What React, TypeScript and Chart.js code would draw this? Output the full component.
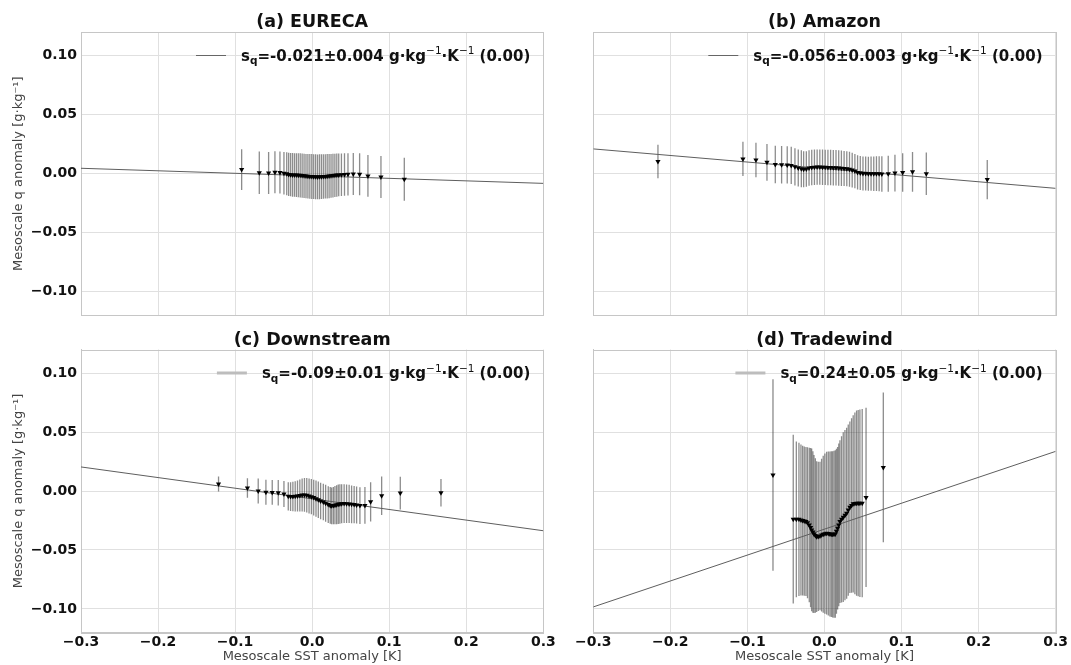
import React, { useEffect, useRef } from 'react';
import { Chart, registerables } from 'chart.js';

Chart.register(...registerables);

const FONT = '"DejaVu Sans", "Liberation Sans", sans-serif';

// ---- axes ----
const xTicks = [-0.3, -0.2, -0.1, 0, 0.1, 0.2, 0.3];
const yTicks = [-0.1, -0.05, 0, 0.05, 0.1];
const fitX = [-0.3, 0.3];

const titles = ['(a) EURECA', '(b) Amazon', '(c) Downstream', '(d) Tradewind'];
const slopeTexts = ['-0.021±0.004', '-0.056±0.003', '-0.09±0.01', '0.24±0.05'];
const pValues = ['0.00', '0.00', '0.00', '0.00'];

// ---- (a) EURECA ----
const xA = [-0.0915, -0.0686, -0.0565, -0.0483, -0.0418, -0.0366,
  -0.0330, -0.0305, -0.0280, -0.0255, -0.0230, -0.0205, -0.0180, -0.0155, -0.0130, -0.0105, -0.0080, -0.0055,
  -0.0030, -0.0005, 0.0020, 0.0045, 0.0070, 0.0095, 0.0120, 0.0145, 0.0170, 0.0195, 0.0220, 0.0245, 0.0270,
  0.0295, 0.0320, 0.0345, 0.0380, 0.0420, 0.0465, 0.0534, 0.0616, 0.0724, 0.0893, 0.1196];
const yA = [0.0035, 0.0008, 0.0006, 0.0012, 0.0010, 0.0004,
  0.0000, -0.0006, -0.0008, -0.0010, -0.0011, -0.0012, -0.0013, -0.0014, -0.0016, -0.0018, -0.0020, -0.0022,
  -0.0023, -0.0024, -0.0025, -0.0026, -0.0027, -0.0026, -0.0025, -0.0024, -0.0023, -0.0022, -0.0020, -0.0018, -0.0016,
  -0.0014, -0.0012, -0.0010, -0.0009, -0.0007, -0.0005, -0.0003, -0.0005, -0.0019, -0.0027, -0.0047];
const eA = [0.0173, 0.0181, 0.0178, 0.0178, 0.0178, 0.0180,
  0.0182, 0.0183, 0.0184, 0.0185, 0.0185, 0.0186, 0.0186, 0.0187, 0.0187, 0.0188, 0.0188, 0.0189,
  0.0189, 0.0190, 0.0190, 0.0190, 0.0190, 0.0190, 0.0189, 0.0189, 0.0188, 0.0188, 0.0187, 0.0186, 0.0185,
  0.0184, 0.0183, 0.0182, 0.0181, 0.0180, 0.0179, 0.0178, 0.0178, 0.0177, 0.0178, 0.0182];
const fitA = [0.0046, -0.0082];

// ---- (b) Amazon ----
const xB = [-0.2161, -0.1058, -0.0889, -0.0746, -0.0638, -0.0556, -0.0483, -0.0431, -0.0383, -0.0340, -0.0300,
  -0.0270, -0.0235, -0.0200, -0.0165, -0.0130, -0.0095, -0.0060, -0.0025, 0.0010, 0.0045, 0.0080, 0.0115,
  0.0150, 0.0185, 0.0220, 0.0255, 0.0290, 0.0325, 0.0360, 0.0395, 0.0430, 0.0465, 0.0500, 0.0535, 0.0570,
  0.0605, 0.0640, 0.0675, 0.0710, 0.0745, 0.0828, 0.0915, 0.1015, 0.1143, 0.1322, 0.2113];
const yB = [0.0103, 0.0125, 0.0116, 0.0096, 0.0078, 0.0076, 0.0074, 0.0070, 0.0058, 0.0048, 0.0042,
  0.0038, 0.0040, 0.0048, 0.0053, 0.0055, 0.0056, 0.0056, 0.0055, 0.0054, 0.0053, 0.0052, 0.0051,
  0.0050, 0.0048, 0.0046, 0.0044, 0.0042, 0.0038, 0.0031, 0.0022, 0.0011, 0.0005, 0.0002, 0.0001, 0.0000,
  0.0000, 0.0000, 0.0000, -0.0001, -0.0002, 0.0000, 0.0005, 0.0011, 0.0016, 0.0000, -0.0050];
const eB = [0.0142, 0.0145, 0.0146, 0.0155, 0.0158, 0.0158, 0.0158, 0.0158, 0.0158, 0.0157, 0.0156,
  0.0152, 0.0151, 0.0150, 0.0150, 0.0150, 0.0150, 0.0150, 0.0150, 0.0150, 0.0150, 0.0150, 0.0150,
  0.0150, 0.0150, 0.0150, 0.0149, 0.0149, 0.0148, 0.0147, 0.0146, 0.0145, 0.0144, 0.0144, 0.0144, 0.0144,
  0.0145, 0.0146, 0.0147, 0.0148, 0.0150, 0.0152, 0.0156, 0.0163, 0.0168, 0.0180, 0.0167];
const fitB = [0.0210, -0.0124];

// ---- (c) Downstream ----
const xC = [-0.1215, -0.0840, -0.0700, -0.0600, -0.0518, -0.0440, -0.0366, -0.0310, -0.0280, -0.0250,
  -0.0220, -0.0190, -0.0160, -0.0130, -0.0100, -0.0070, -0.0040, -0.0010, 0.0020, 0.0050, 0.0080, 0.0110,
  0.0145, 0.0175, 0.0209, 0.0235, 0.0253, 0.0275, 0.0296, 0.0318, 0.0339, 0.0360, 0.0383, 0.0415, 0.0447,
  0.0480, 0.0512, 0.0545, 0.0577, 0.0620, 0.0685, 0.0759, 0.0902, 0.1144, 0.1672];
const yC = [0.0060, 0.0025, 0.0000, -0.0010, -0.0012, -0.0015, -0.0025, -0.0045, -0.0047, -0.0047,
  -0.0045, -0.0042, -0.0038, -0.0034, -0.0033, -0.0036, -0.0042, -0.0048, -0.0056, -0.0065, -0.0074, -0.0084,
  -0.0094, -0.0104, -0.0115, -0.0122, -0.0126, -0.0124, -0.0120, -0.0116, -0.0112, -0.0110, -0.0108, -0.0107, -0.0108,
  -0.0110, -0.0113, -0.0115, -0.0118, -0.0124, -0.0122, -0.0092, -0.0040, -0.0018, -0.0015];
const eC = [0.0064, 0.0083, 0.0105, 0.0106, 0.0105, 0.0108, 0.0110, 0.0120, 0.0122, 0.0125,
  0.0128, 0.0132, 0.0136, 0.0140, 0.0143, 0.0146, 0.0148, 0.0150, 0.0152, 0.0153, 0.0154, 0.0155,
  0.0155, 0.0156, 0.0156, 0.0156, 0.0156, 0.0158, 0.0162, 0.0165, 0.0167, 0.0167, 0.0166, 0.0165, 0.0164,
  0.0162, 0.0160, 0.0158, 0.0157, 0.0156, 0.0156, 0.0166, 0.0163, 0.0139, 0.0117];
const fitC = [0.0204, -0.0337];

// ---- (d) Tradewind ----
const xD = [-0.0668, -0.0405, -0.0365, -0.0331, -0.0305, -0.0283, -0.0262, -0.0240, -0.0220, -0.0197,
  -0.0180, -0.0166, -0.0150, -0.0136, -0.0118, -0.0101, -0.0080, -0.0058, -0.0037, -0.0016, 0.0006,
  0.0028, 0.0050, 0.0071, 0.0089, 0.0106, 0.0124, 0.0141, 0.0156, 0.0171, 0.0186, 0.0201, 0.0222,
  0.0244, 0.0266, 0.0288, 0.0309, 0.0330, 0.0352, 0.0373, 0.0395, 0.0417, 0.0438, 0.0460, 0.0490,
  0.0540, 0.0764];
const yD = [0.0135, -0.0239, -0.0240, -0.0240, -0.0246, -0.0251, -0.0255, -0.0259, -0.0270, -0.0288,
  -0.0310, -0.0330, -0.0348, -0.0364, -0.0378, -0.0387, -0.0385, -0.0381, -0.0374, -0.0367, -0.0362,
  -0.0358, -0.0361, -0.0364, -0.0366, -0.0367, -0.0366, -0.0364, -0.0342, -0.0316, -0.0288, -0.0259, -0.0240,
  -0.0222, -0.0205, -0.0188, -0.0162, -0.0137, -0.0122, -0.0109, -0.0105, -0.0103, -0.0103, -0.0103, -0.0103,
  -0.0055, 0.0200];
const eD = [0.0812, 0.0715, 0.0660, 0.0650, 0.0640, 0.0635, 0.0633, 0.0632, 0.0640, 0.0655,
  0.0675, 0.0690, 0.0685, 0.0670, 0.0655, 0.0640, 0.0632, 0.0630, 0.0648, 0.0665, 0.0680,
  0.0690, 0.0695, 0.0700, 0.0703, 0.0705, 0.0708, 0.0710, 0.0700, 0.0690, 0.0690, 0.0690, 0.0705,
  0.0720, 0.0722, 0.0725, 0.0726, 0.0727, 0.0740, 0.0752, 0.0770, 0.0785, 0.0790, 0.0795, 0.0799,
  0.0760, 0.0635];
const fitD = [-0.0983, 0.0336];

const seriesX = [xA, xB, xC, xD];
const seriesY = [yA, yB, yC, yD];
const seriesE = [eA, eB, eC, eD];
const fits = [fitA, fitB, fitC, fitD];

// ---- layout (pixels) ----
const PANELS = [
  { left: 0, top: 0, w: 568, h: 330, yW: 81, xH: 14.7, padR: 24.7, tTop: 13.5, tBot: 1.1, showX: false, showY: true, thick: false },
  { left: 568, top: 0, w: 503, h: 330, yW: 25.3, xH: 14.7, padR: 15.4, tTop: 13.5, tBot: 1.1, showX: false, showY: false, thick: false },
  { left: 0, top: 325, w: 568, h: 340, yW: 81, xH: 32.5, padR: 24.7, tTop: 6.3, tBot: 0.7, showX: true, showY: true, thick: true },
  { left: 568, top: 325, w: 503, h: 340, yW: 25.3, xH: 32.5, padR: 15.4, tTop: 6.3, tBot: 0.7, showX: true, showY: false, thick: true },
];

const GRID = '#e0e0e0';
const FRAME = '#c6c6c6';

const fmt = (v: number, d: number) => (v < -1e-9 ? '\u2212' : '') + Math.abs(v).toFixed(d);

const errorBarPlugin = {
  id: 'errBars',
  beforeDatasetsDraw(chart: any) {
    const { ctx, chartArea } = chart;
    const xs = chart.scales.x;
    const ys = chart.scales.y;
    ctx.save();
    ctx.strokeStyle = FRAME;
    ctx.lineWidth = 1;
    ctx.strokeRect(Math.round(chartArea.left) + 0.5, Math.round(chartArea.top) + 0.5,
      Math.round(chartArea.right) - Math.round(chartArea.left), Math.round(chartArea.bottom) - Math.round(chartArea.top));
    ctx.beginPath();
    ctx.rect(chartArea.left, chartArea.top, chartArea.right - chartArea.left, chartArea.bottom - chartArea.top);
    ctx.clip();
    const ds = chart.data.datasets.find((d: any) => d.label === 'bins');
    if (ds) {
      ctx.strokeStyle = 'rgba(45,45,45,0.55)';
      ctx.lineWidth = 1.3;
      for (const p of ds.data) {
        const px = xs.getPixelForValue(p.x);
        ctx.beginPath();
        ctx.moveTo(px, ys.getPixelForValue(p.y - p.e));
        ctx.lineTo(px, ys.getPixelForValue(p.y + p.e));
        ctx.stroke();
      }
    }
    ctx.restore();
  },
};

const legendPlugin = {
  id: 'sqLegend',
  afterDatasetsDraw(chart: any, _args: any, opts: any) {
    const { ctx, chartArea } = chart;
    const big = `bold 15px ${FONT}`;
    const subF = `bold 10.5px ${FONT}`;
    const supF = `10.5px ${FONT}`;
    const segs: [string, string, number][] = [
      ['s', big, 0],
      ['q', subF, 3.5],
      ['=' + opts.value + ' g·kg', big, 0],
      ['\u22121', supF, -6.5],
      ['·K', big, 0],
      ['\u22121', supF, -6.5],
      [' (' + opts.p + ')', big, 0],
    ];
    ctx.save();
    const widths: number[] = [];
    let total = 0;
    for (const s of segs) {
      ctx.font = s[1];
      const w = ctx.measureText(s[0]).width;
      widths.push(w);
      total += w;
    }
    let x = chartArea.right - 13 - total;
    const yMid = chartArea.top + 23;
    const base = yMid + 5.5;
    ctx.strokeStyle = opts.thick ? '#bdbdbd' : '#666666';
    ctx.lineWidth = opts.thick ? 3 : 1;
    ctx.beginPath();
    ctx.moveTo(x - 15 - 30, Math.round(yMid) + (opts.thick ? 0 : 0.5));
    ctx.lineTo(x - 15, Math.round(yMid) + (opts.thick ? 0 : 0.5));
    ctx.stroke();
    ctx.fillStyle = '#111111';
    ctx.textBaseline = 'alphabetic';
    ctx.textAlign = 'left';
    segs.forEach((s, i) => {
      ctx.font = s[1];
      ctx.fillText(s[0], x, base + s[2]);
      x += widths[i];
    });
    ctx.restore();
  },
};

function makeConfig(i: number): any {
  const p = PANELS[i];
  const xs = seriesX[i];
  const ys = seriesY[i];
  const es = seriesE[i];
  const fit = fits[i];
  return {
    type: 'scatter',
    data: {
      datasets: [
        {
          type: 'line',
          label: 'fit',
          data: fitX.map((x, k) => ({ x, y: fit[k] })),
          borderColor: '#5e5e5e',
          borderWidth: 1,
          pointRadius: 0,
          fill: false,
          order: 2,
        },
        {
          type: 'scatter',
          label: 'bins',
          data: xs.map((x, k) => ({ x, y: ys[k], e: es[k] })),
          pointStyle: 'triangle',
          rotation: 180,
          radius: 3,
          backgroundColor: '#000000',
          borderColor: '#000000',
          borderWidth: 0,
          order: 1,
        },
      ],
    },
    options: {
      responsive: false,
      animation: false,
      devicePixelRatio: 1,
      events: [],
      layout: { padding: { left: 0, right: p.padR, top: 0, bottom: 0 } },
      plugins: {
        legend: { display: false },
        tooltip: { enabled: false },
        title: {
          display: true,
          text: titles[i],
          fullSize: false,
          color: '#111111',
          font: { family: FONT, size: 17.5, weight: 'bold', lineHeight: 1 },
          padding: { top: p.tTop, bottom: p.tBot },
        },
        sqLegend: { value: slopeTexts[i], p: pValues[i], thick: p.thick },
      },
      scales: {
        x: {
          type: 'linear',
          min: -0.3,
          max: 0.3,
          afterBuildTicks: (s: any) => { s.ticks = xTicks.map((v) => ({ value: v })); },
          afterFit: (s: any) => { s.height = p.xH; },
          grid: { color: GRID, drawTicks: false, lineWidth: 1 },
          border: { color: FRAME },
          ticks: {
            display: p.showX,
            autoSkip: false,
            maxRotation: 0,
            padding: 1,
            color: '#111111',
            font: { family: FONT, size: 14, weight: 'bold' },
            callback: (v: any) => fmt(Number(v), 1),
          },
          title: {
            display: p.showX,
            text: 'Mesoscale SST anomaly [K]',
            color: '#444444',
            font: { family: FONT, size: 13 },
            padding: { top: 0, bottom: 0.5 },
          },
        },
        y: {
          type: 'linear',
          min: -0.12,
          max: 0.12,
          afterBuildTicks: (s: any) => { s.ticks = yTicks.map((v) => ({ value: v })); },
          afterFit: (s: any) => { s.width = p.yW; },
          grid: { color: GRID, drawTicks: false, lineWidth: 1 },
          border: { color: FRAME },
          ticks: {
            display: p.showY,
            autoSkip: false,
            padding: 4,
            color: '#111111',
            font: { family: FONT, size: 14, weight: 'bold' },
            callback: (v: any) => fmt(Number(v), 2),
          },
          title: {
            display: p.showY,
            text: 'Mesoscale q anomaly [g·kg⁻¹]',
            color: '#444444',
            font: { family: FONT, size: 13 },
            padding: { top: 11, bottom: 0 },
          },
        },
      },
    },
    plugins: [errorBarPlugin, legendPlugin],
  };
}

export default function App() {
  const refs = [useRef<HTMLCanvasElement>(null), useRef<HTMLCanvasElement>(null),
    useRef<HTMLCanvasElement>(null), useRef<HTMLCanvasElement>(null)];

  useEffect(() => {
    const charts: Chart[] = [];
    refs.forEach((r, i) => {
      if (r.current) charts.push(new Chart(r.current, makeConfig(i)));
    });
    return () => charts.forEach((c) => c.destroy());
  }, []);

  return (
    <div style={{ position: 'fixed', left: 0, top: 0, width: 1071, height: 665, background: '#ffffff', overflow: 'hidden' }}>
      {PANELS.map((p, i) => (
        <canvas
          key={i}
          ref={refs[i]}
          width={p.w}
          height={p.h}
          style={{ position: 'absolute', left: p.left, top: p.top, width: p.w, height: p.h }}
        />
      ))}
    </div>
  );
}
